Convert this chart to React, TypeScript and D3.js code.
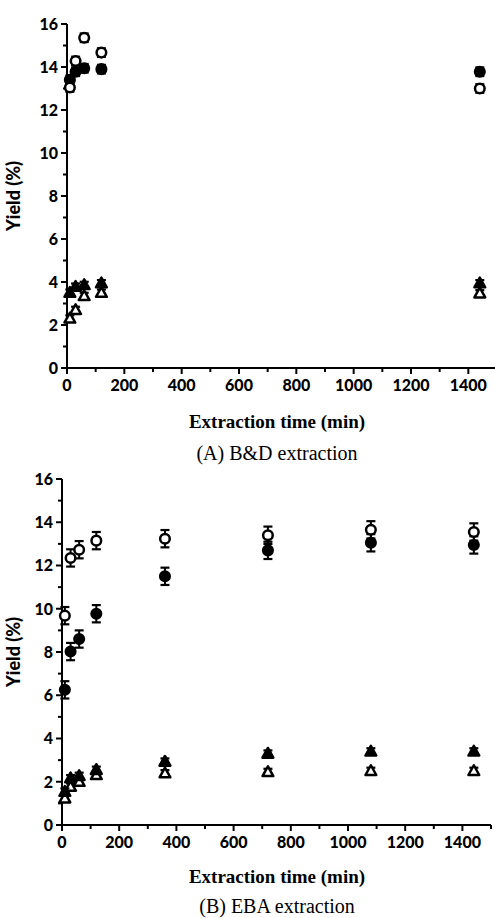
import React from "react";
import * as d3 from "d3";

const timesA = [10, 30, 60, 120, 1440];
const aFilledCircle = [13.4, 13.78, 13.94, 13.9, 13.78];
const aOpenCircle = [13.05, 14.28, 15.36, 14.67, 13.0];
const aFilledTri = [3.5, 3.78, 3.86, 3.94, 3.94];
const aOpenTri = [2.3, 2.7, 3.35, 3.5, 3.47];
const aCircleErr = [0.2, 0.2, 0.2, 0.2, 0.2];
const aTriErr = [0.15, 0.15, 0.15, 0.15, 0.15];

const timesB = [10, 30, 60, 120, 360, 720, 1080, 1440];
const bOpenCircle = [9.68, 12.35, 12.73, 13.15, 13.24, 13.4, 13.65, 13.55];
const bFilledCircle = [6.25, 8.02, 8.6, 9.77, 11.5, 12.7, 13.05, 12.95];
const bFilledTri = [1.54, 2.16, 2.27, 2.55, 2.93, 3.3, 3.4, 3.4];
const bOpenTri = [1.23, 1.77, 2.0, 2.31, 2.39, 2.45, 2.5, 2.5];
const bCircleErr = [0.4, 0.4, 0.4, 0.4, 0.4, 0.4, 0.4, 0.4];
const bTriErr = [0.15, 0.15, 0.15, 0.15, 0.15, 0.15, 0.15, 0.15];

const xTicks = [0, 200, 400, 600, 800, 1000, 1200, 1400];
const xMinor = [100, 300, 500, 700, 900, 1100, 1300, 1500];
const yTicks = [0, 2, 4, 6, 8, 10, 12, 14, 16];
const yMinor = [1, 3, 5, 7, 9, 11, 13, 15];

const xLabel = "Extraction time (min)";
const yLabel = "Yield (%)";
const titles = ["(A) B&D extraction", "(B) EBA extraction"];

type Series = { vals: number[]; err: number[]; shape: "circle" | "tri"; filled: boolean };

function Marker({ cx, cy, shape, filled }: { cx: number; cy: number; shape: string; filled: boolean }) {
  const fill = filled ? "#000" : "#fff";
  if (shape === "circle") {
    return <circle cx={cx} cy={cy} r={4.8} fill={fill} stroke="#000" strokeWidth={2.5} />;
  }
  const s = 5.4;
  const p = `M${cx},${cy - s * 1.05} L${cx + s},${cy + s * 0.75} L${cx - s},${cy + s * 0.75} Z`;
  return <path d={p} fill={fill} stroke="#000" strokeWidth={2.5} strokeLinejoin="round" />;
}

function Panel({
  x0, x1, yTop, yBottom, times, series, title, xLabY, titleY,
}: {
  x0: number; x1: number; yTop: number; yBottom: number; times: number[]; series: Series[];
  title: string; xLabY: number; titleY: number;
}) {
  const x = d3.scaleLinear().domain([0, 1500]).range([x0, x1]);
  const y = d3.scaleLinear().domain([0, 16]).range([yBottom, yTop]);
  const tickFont = "Lato, 'Open Sans', sans-serif";
  return (
    <g>
      <line x1={x0} x2={x0} y1={yTop} y2={yBottom} stroke="#000" strokeWidth={2} />
      <line x1={x0} x2={x1} y1={yBottom} y2={yBottom} stroke="#000" strokeWidth={2} />
      {yTicks.map((t) => (
        <g key={"yt" + t}>
          <line x1={x0 - 6} x2={x0} y1={y(t)} y2={y(t)} stroke="#000" strokeWidth={2} />
          <text x={x0 - 9} y={y(t)} dy="0.36em" textAnchor="end" fontFamily={tickFont} fontWeight={900} fontSize={16}>
            {t}
          </text>
        </g>
      ))}
      {yMinor.map((t) => (
        <line key={"ym" + t} x1={x0 - 4} x2={x0} y1={y(t)} y2={y(t)} stroke="#000" strokeWidth={2} />
      ))}
      {xTicks.map((t) => (
        <g key={"xt" + t}>
          <line x1={x(t)} x2={x(t)} y1={yBottom} y2={yBottom + 6} stroke="#000" strokeWidth={2} />
          <text x={x(t)} y={yBottom + 23} textAnchor="middle" fontFamily={tickFont} fontWeight={900} fontSize={16}>
            {t}
          </text>
        </g>
      ))}
      {xMinor.map((t) => (
        <line key={"xm" + t} x1={x(t)} x2={x(t)} y1={yBottom} y2={yBottom + 4} stroke="#000" strokeWidth={2} />
      ))}
      <text
        transform={`translate(20,${(yTop + yBottom) / 2}) rotate(-90)`}
        textAnchor="middle"
        fontFamily={tickFont}
        fontWeight={900}
        fontSize={18}
      >
        {yLabel}
      </text>
      <text x={277} y={xLabY} textAnchor="middle" fontFamily="'Liberation Serif', 'DejaVu Serif', serif" fontWeight="bold" fontSize={19}>
        {xLabel}
      </text>
      <text x={277} y={titleY} textAnchor="middle" fontFamily="'Liberation Serif', 'DejaVu Serif', serif" fontSize={20}>
        {title}
      </text>
      {series.map((s, si) =>
        times.map((t, i) => {
          const cx = x(t);
          const cy = y(s.vals[i]);
          const yHi = y(s.vals[i] + s.err[i]);
          const yLo = y(s.vals[i] - s.err[i]);
          return (
            <g key={`s${si}-${i}`}>
              <line x1={cx} x2={cx} y1={yHi} y2={yLo} stroke="#000" strokeWidth={2} />
              <line x1={cx - 4.5} x2={cx + 4.5} y1={yHi} y2={yHi} stroke="#000" strokeWidth={2.2} />
              <line x1={cx - 4.5} x2={cx + 4.5} y1={yLo} y2={yLo} stroke="#000" strokeWidth={2.2} />
              <Marker cx={cx} cy={cy} shape={s.shape} filled={s.filled} />
            </g>
          );
        })
      )}
    </g>
  );
}

export default function App() {
  const seriesA: Series[] = [
    { vals: aOpenTri, err: aTriErr, shape: "tri", filled: false },
    { vals: aFilledTri, err: aTriErr, shape: "tri", filled: true },
    { vals: aFilledCircle, err: aCircleErr, shape: "circle", filled: true },
    { vals: aOpenCircle, err: aCircleErr, shape: "circle", filled: false },
  ];
  const seriesB: Series[] = [
    { vals: bOpenTri, err: bTriErr, shape: "tri", filled: false },
    { vals: bFilledTri, err: bTriErr, shape: "tri", filled: true },
    { vals: bFilledCircle, err: bCircleErr, shape: "circle", filled: true },
    { vals: bOpenCircle, err: bCircleErr, shape: "circle", filled: false },
  ];
  return (
    <svg
      width={495}
      height={918}
      style={{ position: "absolute", left: 0, top: 0, background: "#fff" }}
    >
      <rect width={495} height={918} fill="#fff" />
      <Panel x0={67} x1={497} yTop={24} yBottom={368} times={timesA} series={seriesA} title={titles[0]} xLabY={428} titleY={460} />
      <Panel x0={62} x1={491} yTop={479} yBottom={825} times={timesB} series={seriesB} title={titles[1]} xLabY={883} titleY={913} />
    </svg>
  );
}
